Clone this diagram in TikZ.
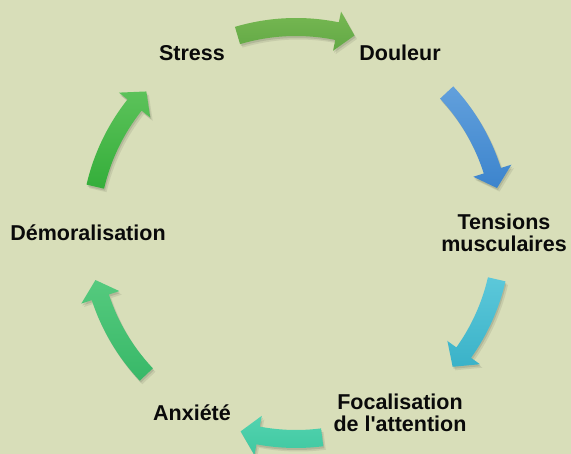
\documentclass[tikz,border=0pt]{standalone}
\usepackage{fontspec}
\setmainfont{Liberation Sans}[Ligatures=TeXOff]
\definecolor{bgcol}{HTML}{D8DEB9}
\definecolor{txtcol}{HTML}{0A0A0A}
\definecolor{arrowAlight}{HTML}{76B852}
\definecolor{arrowAdark}{HTML}{62A845}
\definecolor{arrowBlight}{HTML}{62A0DC}
\definecolor{arrowBdark}{HTML}{3C84CD}
\definecolor{arrowClight}{HTML}{5CC8DA}
\definecolor{arrowCdark}{HTML}{3AB2C8}
\definecolor{arrowDlight}{HTML}{52D3B0}
\definecolor{arrowDdark}{HTML}{40C8A0}
\definecolor{arrowElight}{HTML}{55CA7E}
\definecolor{arrowEdark}{HTML}{38B868}
\definecolor{arrowFlight}{HTML}{5CC25A}
\definecolor{arrowFdark}{HTML}{34AE3A}
\newcommand{\cyclearrow}[4]{%
	\pgfmathsetmacro{\headback}{#2+5}
	\fill[black, opacity=0.10, shift={(1,-2)}] (#1:215) arc[start angle=#1, end angle=\headback, radius=215] -- (\headback:226) -- (#2:206) -- (\headback:186) -- (\headback:197) arc[start angle=\headback, end angle=#1, radius=197] -- cycle;
	\fill[black, opacity=0.08, shift={(2.5,-3.5)}] (#1:215) arc[start angle=#1, end angle=\headback, radius=215] -- (\headback:226) -- (#2:206) -- (\headback:186) -- (\headback:197) arc[start angle=\headback, end angle=#1, radius=197] -- cycle;
	\shade[top color=#3, bottom color=#4] (#1:215) arc[start angle=#1, end angle=\headback, radius=215] -- (\headback:226) -- (#2:206) -- (\headback:186) -- (\headback:197) arc[start angle=\headback, end angle=#1, radius=197] -- cycle;
}
\begin{document}
\begin{tikzpicture}[x=1pt, y=1pt,
	lbl/.style={inner sep=0pt, align=center, text=txtcol, font=\fontsize{21.5}{22}\selectfont\bfseries}]
	\useasboundingbox (0, 0) rectangle (571, 454);
	\fill[bgcol] (0, 0) rectangle (571, 454);
	\begin{scope}[shift={(296, 221)}]
	\node[lbl] (stress) at (120:208) {Stress};
	\node[lbl] (douleur) at (60:208) {Douleur};
	\node[lbl] (tensions) at (0:208) {Tensions\\musculaires};
	\node[lbl] (focal) at (-60:208) {Focalisation\\de l'attention};
	\node[lbl] (anxiete) at (-120:208) {Anxiété};
	\node[lbl] (demoral) at (180:208) {Démoralisation};
	\cyclearrow{106.5}{73.5}{arrowAlight}{arrowAdark}
	\cyclearrow{43}{12.6}{arrowBlight}{arrowBdark}
	\cyclearrow{-13}{-40.5}{arrowClight}{arrowCdark}
	\cyclearrow{-82.7}{-105.6}{arrowDlight}{arrowDdark}
	\cyclearrow{-136.6}{-166.8}{arrowElight}{arrowEdark}
	\cyclearrow{167}{136.6}{arrowFlight}{arrowFdark}
	\end{scope}
\end{tikzpicture}
\end{document}
